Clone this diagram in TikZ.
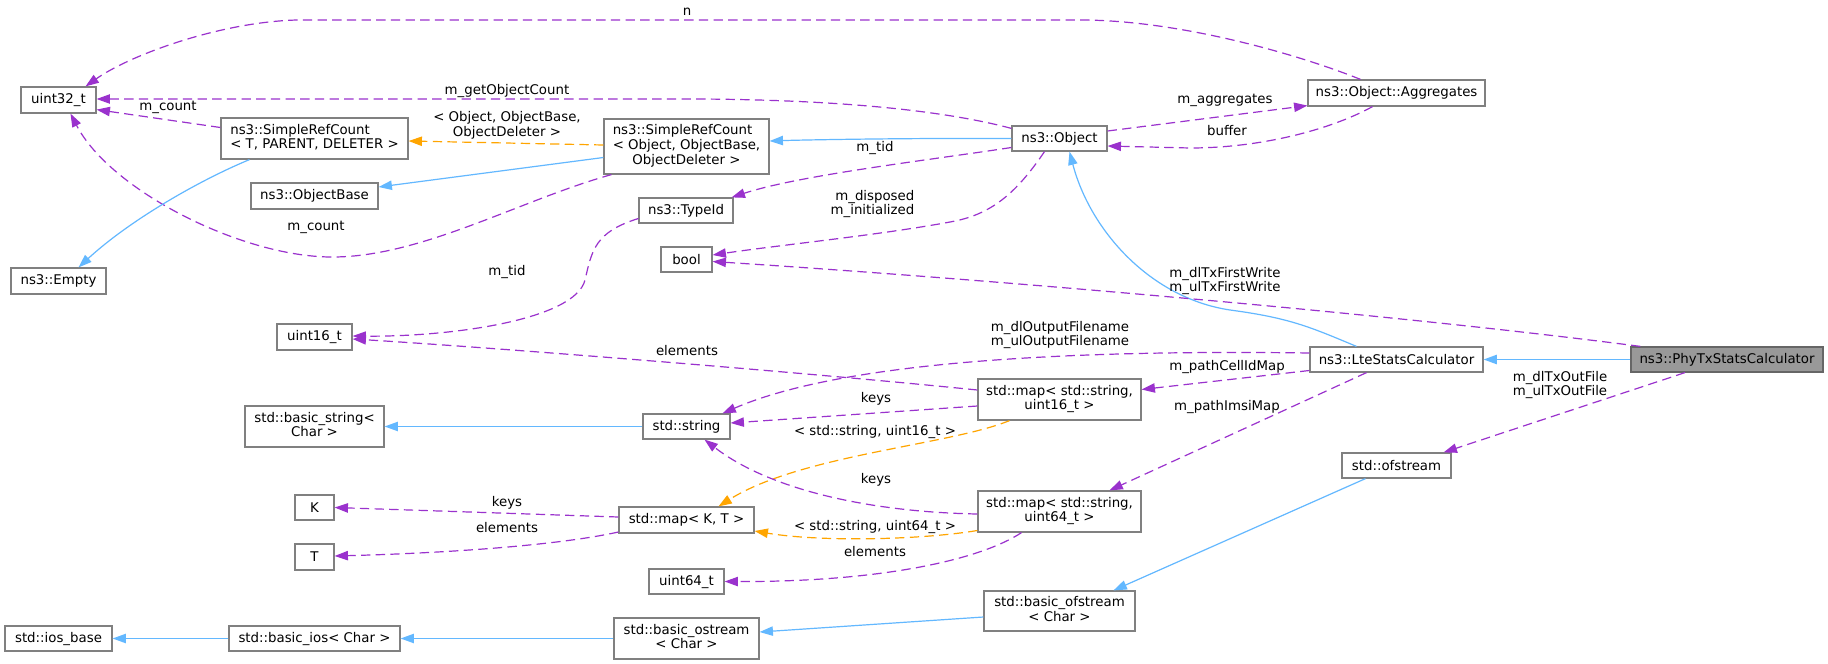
\documentclass[tikz,border=0pt]{standalone}
\usepackage{fontspec}
\setmainfont{DejaVu Sans}
\usetikzlibrary{arrows.meta,calc}
\definecolor{edgep}{HTML}{9A32CD}
\definecolor{edgeb}{HTML}{63B8FF}
\definecolor{edgeo}{HTML}{FFA500}
\definecolor{bord}{HTML}{808080}
\definecolor{hilite}{HTML}{999999}
\definecolor{hiborder}{HTML}{666666}
\newcommand\lcell[1]{\multicolumn{1}{@{}l@{}}{#1}}
\begin{document}
\begin{tikzpicture}[x=0.75pt,y=-0.75pt,
  every node/.style={font=\fontsize{10}{11}\selectfont},
  box/.style={draw=bord,fill=white,line width=0.9pt,inner sep=0pt,minimum height=25*0.75pt},
  bw/.style={minimum width=#1*0.75pt},
  bh/.style={minimum height=#1*0.75pt},
  tip/.style={-{Triangle[length=10pt,width=7pt]}},
  mem/.style={draw=edgep,dash pattern=on 7pt off 4pt,line width=0.9pt,tip},
  inh/.style={draw=edgeb,line width=0.9pt,tip},
  tpl/.style={draw=edgeo,dash pattern=on 7pt off 4pt,line width=0.9pt,tip},
  lbl/.style={inner sep=0pt,align=center}]
\fill[white] (0,0) rectangle (1828,664);
% nodes
\node[box,bw=75,bh=26] (u32) at (58.5,100) {uint32\_t};
\node[box,bw=187,bh=41] (srct) at (314.5,138.5) {\begin{tabular}{@{}c@{}}\lcell{ns3::SimpleRefCount}\\< T, PARENT, DELETER >\end{tabular}};
\node[box,bw=127,bh=26] (obase) at (314.5,196) {ns3::ObjectBase};
\node[box,bw=95,bh=26] (empty) at (58.5,281) {ns3::Empty};
\node[box,bw=75,bh=26] (u16) at (314.5,337) {uint16\_t};
\node[box,bw=139,bh=41] (bstr) at (314.5,426.5) {\begin{tabular}{@{}c@{}}\lcell{std::basic\_string<}\\Char >\end{tabular}};
\node[box,bw=39,bh=25] (K) at (314.5,507.5) {K};
\node[box,bw=39,bh=26] (T) at (314.5,557) {T};
\node[box,bw=107,bh=25] (iosb) at (58.5,638.5) {std::ios\_base};
\node[box,bw=171,bh=25] (bios) at (314.5,638.5) {std::basic\_ios< Char >};
\node[box,bw=165,bh=55] (srco) at (686.5,146.5) {\begin{tabular}{@{}c@{}}\lcell{ns3::SimpleRefCount}\\\lcell{< Object, ObjectBase,}\\ObjectDeleter >\end{tabular}};
\node[box,bw=95,bh=25] (obj) at (1059.5,138.5) {ns3::Object};
\node[box,bw=94,bh=25] (tid) at (686,210.5) {ns3::TypeId};
\node[box,bw=51,bh=25] (bool) at (686.5,259.5) {bool};
\node[box,bw=177,bh=26] (agg) at (1396.5,93) {ns3::Object::Aggregates};
\node[box,bw=173,bh=25] (lte) at (1396.5,359.5) {ns3::LteStatsCalculator};
\node[box,bw=192,bh=25,fill=hilite,draw=hiborder] (phy) at (1727,359.5) {ns3::PhyTxStatsCalculator};
\node[box,bw=163,bh=41] (map16) at (1059.5,399.5) {\begin{tabular}{@{}c@{}}\lcell{std::map< std::string,}\\uint16\_t >\end{tabular}};
\node[box,bw=87,bh=25] (str) at (686.5,426.5) {std::string};
\node[box,bw=135,bh=26] (mapkt) at (686.5,520) {std::map< K, T >};
\node[box,bw=163,bh=41] (map64) at (1059.5,511.5) {\begin{tabular}{@{}c@{}}\lcell{std::map< std::string,}\\uint64\_t >\end{tabular}};
\node[box,bw=75,bh=25] (u64) at (686.5,581.5) {uint64\_t};
\node[box,bw=145,bh=41] (bostr) at (686.5,638.5) {\begin{tabular}{@{}c@{}}std::basic\_ostream\\< Char >\end{tabular}};
\node[box,bw=151,bh=40] (bofs) at (1059.5,611) {\begin{tabular}{@{}c@{}}std::basic\_ofstream\\< Char >\end{tabular}};
\node[box,bw=109,bh=25] (ofs) at (1396.5,465.5) {std::ofstream};
% edges
\draw[mem] ($(agg.north)+(-36,0)$) .. controls (1300,55) and (1180,20) .. (1080,20) -- (297,20) .. controls (220,22) and (130,55) .. ($(u32.north)+(27,0)$);
\draw[mem] ($(obj.north west)+(0,3)$) .. controls (950,112) and (850,100) .. (700,99) -- ($(u32.east)+(0,-1)$);
\draw[mem] ($(srct.west)+(0,-11)$) -- ($(u32.south east)+(0,-4)$);
\draw[mem] ($(srco.south west)+(8,0)$) .. controls (520,200) and (420,258) .. (330,257) .. controls (240,256) and (110,190) .. ($(u32.south)+(12,0)$);
\draw[tpl] ($(srco.west)+(0,-1.5)$) -- ($(srct.east)+(0,2.5)$);
\draw[inh] ($(srco.west)+(0,11)$) -- ($(obase.east)+(0,-9)$);
\draw[inh] ($(srct.south)+(-65,0)$) .. controls (200,180) and (130,220) .. ($(empty.north)+(20,0)$);
\draw[inh] (obj.west) .. controls (900,138) and (800,140) .. ($(srco.east)+(0,-5.5)$);
\draw[mem] ($(obj.west)+(0,9)$) .. controls (930,160) and (800,175) .. ($(tid.north east)+(-2,0)$);
\draw[mem] ($(obj.south)+(-15,0)$) .. controls (1015,195) and (990,215) .. (950,222) .. controls (880,235) and (780,245) .. ($(bool.east)+(0,-4.5)$);
\draw[mem] ($(obj.east)+(0,-7.5)$) -- ($(agg.south west)+(0,-1)$);
\draw[mem] ($(agg.south)+(-24,0)$) .. controls (1330,130) and (1260,148) .. (1190,148) -- ($(obj.east)+(0,7.5)$);
\draw[inh] ($(lte.north)+(-40,0)$) .. controls (1310,327) and (1290,318) .. (1230,310) .. controls (1150,298) and (1090,230) .. ($(obj.south)+(10,0)$);
\draw[mem] ($(phy.north west)+(10,0)$) .. controls (1400,315) and (1000,280) .. ($(bool.east)+(0,2)$);
\draw[inh,line width=1.2pt] (phy.west) -- (lte.east);
\draw[mem] ($(phy.south)+(-42,0)$) -- ($(ofs.north east)+(-8,0)$);
\draw[mem] ($(lte.west)+(0,-6.5)$) .. controls (1100,350) and (850,358) .. ($(str.north)+(36,0)$);
\draw[mem] ($(lte.west)+(0,11)$) -- ($(map16.east)+(0,-10)$);
\draw[mem] ($(lte.south)+(-30,0)$) -- ($(map64.north)+(50,0)$);
\draw[mem] ($(map16.west)+(0,-9.5)$) .. controls (800,372) and (500,348) .. ($(u16.east)+(0,2)$);
\draw[mem] ($(map16.west)+(0,6.5)$) -- ($(str.east)+(0,-3.5)$);
\draw[tpl] ($(map16.south)+(-50,0)$) .. controls (950,445) and (800,455) .. ($(mapkt.north)+(32,0)$);
\draw[mem] ($(map64.west)+(0,2.5)$) .. controls (870,512) and (770,490) .. ($(str.south)+(18,0)$);
\draw[tpl] ($(map64.west)+(0,19)$) .. controls (920,540) and (820,542) .. ($(mapkt.east)+(0,11)$);
\draw[mem] ($(map64.south)+(-38,0)$) .. controls (980,560) and (880,582) .. (u64.east);
\draw[mem] ($(mapkt.west)+(0,-3)$) -- (K.east);
\draw[mem] ($(mapkt.west)+(0,12)$) .. controls (560,545) and (450,553) .. ($(T.east)+(0,-1)$);
\draw[inh] (str.west) -- (bstr.east);
\draw[inh] (bios.west) -- (iosb.east);
\draw[inh] (bostr.west) -- (bios.east);
\draw[inh] ($(bofs.west)+(0,6)$) -- ($(bostr.east)+(0,-6.5)$);
\draw[inh] ($(ofs.south)+(-31,0)$) -- ($(bofs.north)+(54,0)$);
\draw[mem] ($(tid.west)+(0,8)$) .. controls (595,232) and (592,250) .. (585,280) .. controls (575,320) and (450,337) .. ($(u16.east)+(0,-1)$);
% labels
\node[lbl] (ln) at (687,12) {n};
\node[lbl] (lgoc) at (507,91) {m\_getObjectCount};
\node[lbl] (lcnt1) at (168,107) {m\_count};
\node[lbl] (lcnt2) at (316,227) {m\_count};
\node[lbl] (ltplo) at (507,125) {< Object, ObjectBase,\\ObjectDeleter >};
\node[lbl] (ltid1) at (875,148) {m\_tid};
\node[lbl,align=right] (ldisp) at (872.5,204) {m\_disposed\\m\_initialized};
\node[lbl] (lagg) at (1225,100) {m\_aggregates};
\node[lbl] (lbuf) at (1227,131) {buffer};
\node[lbl] (lfw) at (1225,281) {m\_dlTxFirstWrite\\m\_ulTxFirstWrite};
\node[lbl] (lof) at (1560,385) {m\_dlTxOutFile\\m\_ulTxOutFile};
\node[lbl] (lofn) at (1060,335) {m\_dlOutputFilename\\m\_ulOutputFilename};
\node[lbl] (lcid) at (1227,367) {m\_pathCellIdMap};
\node[lbl] (limsi) at (1227,407) {m\_pathImsiMap};
\node[lbl] (lel16) at (687,351) {elements};
\node[lbl] (lk16) at (876,399) {keys};
\node[lbl] (lt16) at (875,432) {< std::string, uint16\_t >};
\node[lbl] (lk64) at (876,480) {keys};
\node[lbl] (lt64) at (875,527) {< std::string, uint64\_t >};
\node[lbl] (lel64) at (875,552) {elements};
\node[lbl] (lkK) at (507,503) {keys};
\node[lbl] (lelT) at (507,528) {elements};
\node[lbl] (ltid2) at (507,272) {m\_tid};
\end{tikzpicture}
\end{document}
